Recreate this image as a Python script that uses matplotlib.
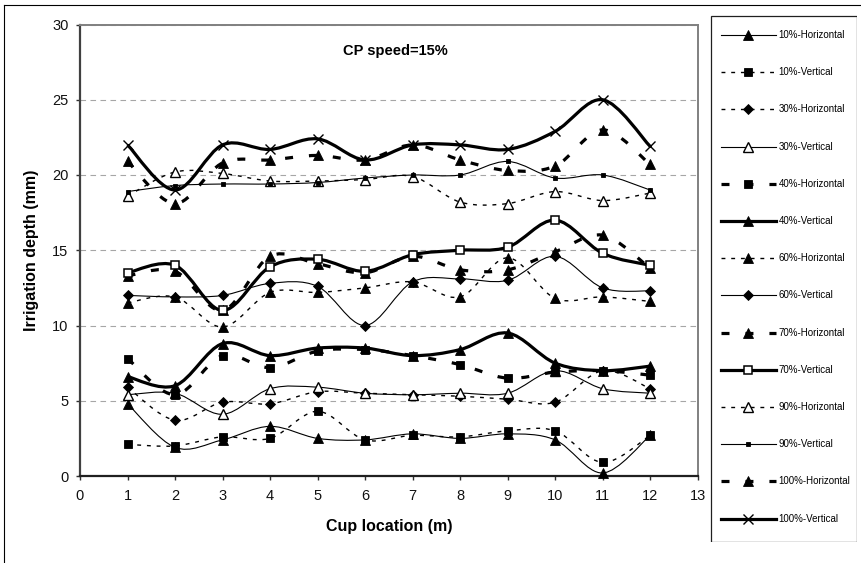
import numpy as np
import matplotlib
matplotlib.use("Agg")
import matplotlib.pyplot as plt
from matplotlib.path import Path
from matplotlib.patches import PathPatch, Rectangle
from matplotlib.lines import Line2D

plt.rcParams["font.family"] = ["Liberation Sans", "DejaVu Sans"]

# Cup positions along the lateral (m)
cups = [1, 2, 3, 4, 5, 6, 7, 8, 9, 10, 11, 12]

# Irrigation depth (mm) for each nozzle setting / catch-can line
h10 = [4.8, 1.9, 2.4, 3.3, 2.5, 2.4, 2.8, 2.5, 2.8, 2.4, 0.2, 2.7]
v10 = [2.1, 2.0, 2.6, 2.5, 4.3, 2.4, 2.7, 2.6, 3.0, 3.0, 0.9, 2.7]
h30 = [5.9, 3.7, 4.9, 4.8, 5.6, 5.5, 5.4, 5.3, 5.1, 4.9, 7.0, 5.8]
v30 = [5.4, 5.5, 4.1, 5.8, 5.9, 5.5, 5.4, 5.5, 5.5, 7.0, 5.8, 5.5]
h40 = [7.8, 5.4, 8.0, 7.2, 8.3, 8.4, 8.0, 7.4, 6.5, 6.9, 7.0, 6.7]
v40 = [6.6, 6.0, 8.8, 8.0, 8.5, 8.5, 8.0, 8.4, 9.5, 7.5, 7.0, 7.3]
h60 = [11.5, 11.9, 9.9, 12.2, 12.2, 12.5, 12.9, 11.9, 14.5, 11.8, 11.9, 11.6]
v60 = [12.0, 11.9, 12.0, 12.8, 12.6, 10.0, 12.9, 13.1, 13.0, 14.6, 12.5, 12.3]
h70 = [13.3, 13.6, 11.0, 14.6, 14.1, 13.5, 14.6, 13.7, 13.7, 14.9, 16.0, 13.8]
v70 = [13.5, 14.0, 11.0, 13.9, 14.4, 13.6, 14.7, 15.0, 15.2, 17.0, 14.8, 14.0]
h90 = [18.6, 20.2, 20.1, 19.6, 19.6, 19.7, 19.9, 18.2, 18.1, 18.9, 18.3, 18.8]
v90 = [18.9, 19.3, 19.4, 19.4, 19.5, 19.8, 20.0, 20.0, 20.9, 19.8, 20.0, 19.0]
h100 = [20.9, 18.1, 20.8, 21.0, 21.3, 21.0, 22.0, 21.0, 20.3, 20.6, 23.0, 20.7]
v100 = [22.0, 19.0, 22.0, 21.7, 22.4, 21.0, 22.0, 22.0, 21.7, 22.9, 25.0, 21.9]

labels = ["10%-Horizontal", "10%-Vertical", "30%-Horizontal", "30%-Vertical",
          "40%-Horizontal", "40%-Vertical", "60%-Horizontal", "60%-Vertical",
          "70%-Horizontal", "70%-Vertical", "90%-Horizontal", "90%-Vertical",
          "100%-Horizontal", "100%-Vertical"]
values = [h10, v10, h30, v30, h40, v40, h60, v60, h70, v70, h90, v90, h100, v100]

THIN, THICK, DOTW = 0.8, 2.3, 1.0
DOT = (2.8, 4.2)     # short dashes, in line-width units
LONG = (2.5, 5.0)    # long thick dashes

def st(lw, dash, marker, ms, mfc="black", mew=0.6):
    return dict(lw=lw, dash=dash, marker=marker, ms=ms, mfc=mfc, mew=mew)

styles = [
    st(THIN, None, "^", 6.6),
    st(DOTW, DOT, "s", 6.0),
    st(DOTW, DOT, "D", 4.8),
    st(THIN, None, "^", 6.6, "white", 1.0),
    st(THICK, LONG, "s", 6.0),
    st(THICK, None, "^", 6.6),
    st(DOTW, DOT, "^", 6.6),
    st(THIN, None, "D", 4.8),
    st(THICK, LONG, "^", 6.6),
    st(THICK, None, "s", 6.2, "white", 1.1),
    st(DOTW, DOT, "^", 6.6, "white", 1.0),
    st(THIN, None, "s", 3.0),
    st(THICK, LONG, "^", 6.6),
    st(THICK, None, "x", 7.5, "black", 1.0),
]


def smooth_path(xs, ys):
    """Bezier path through the points with Catmull-Rom style handles."""
    pts = np.column_stack([xs, ys]).astype(float)
    n = len(pts)
    verts, codes = [pts[0]], [Path.MOVETO]
    for i in range(n - 1):
        p0 = pts[i - 1] if i > 0 else pts[i]
        p1, p2 = pts[i], pts[i + 1]
        p3 = pts[i + 2] if i + 2 < n else pts[i + 1]
        verts += [p1 + (p2 - p0) / 6.0, p2 - (p3 - p1) / 6.0, p2]
        codes += [Path.CURVE4] * 3
    return Path(verts, codes)


W, H = 861, 563
fig = plt.figure(figsize=(W / 100, H / 100), dpi=100)
fig.patch.set_facecolor("white")

x0, x1, ytop, ybot = 80.0, 697.7, 24.5, 476.0
ax = fig.add_axes([x0 / W, 1 - ybot / H, (x1 - x0) / W, (ybot - ytop) / H])
ax.set_xlim(0, 13)
ax.set_ylim(0, 30)
ax.set_xticks(range(0, 14))
ax.set_yticks(range(0, 31, 5))
ax.yaxis.grid(True, color="#a6a6a6", lw=0.8, linestyle=(0, (5, 4)))
ax.set_axisbelow(True)

for sp in ("top", "right"):
    ax.spines[sp].set_color("#808080")
    ax.spines[sp].set_linewidth(1.4)
ax.spines["left"].set_color("#404040")
ax.spines["left"].set_linewidth(1.6)
ax.spines["bottom"].set_color("#202020")
ax.spines["bottom"].set_linewidth(1.6)
ax.tick_params(direction="out", length=3.2, width=1.0, color="#303030",
               labelsize=10.5, labelcolor="#111111")
ax.tick_params(axis="y", pad=5)
ax.tick_params(axis="x", pad=6)

for k, (lab, vals, s) in enumerate(zip(labels, values, styles)):
    ls = "-" if s["dash"] is None else (0, s["dash"])
    patch = PathPatch(smooth_path(cups, vals), fill=False, edgecolor="black",
                      lw=s["lw"], linestyle=ls, capstyle="butt",
                      joinstyle="round", transform=ax.transData,
                      zorder=3 + 2 * k)
    ax.add_patch(patch)
    ax.plot(cups, vals, linestyle="none", marker=s["marker"], ms=s["ms"],
            mfc=s["mfc"], mec="black", mew=s["mew"], zorder=4 + 2 * k,
            clip_on=False)

ax.set_xlabel("Cup location (m)", fontsize=11.5, fontweight="bold", va="center")
ax.xaxis.set_label_coords(0.5, (ybot - 526.7) / (ybot - ytop))
ax.set_ylabel("Irrigation depth (mm)", fontsize=11.5, fontweight="bold", va="center")
ax.yaxis.set_label_coords((32 - x0) / (x1 - x0), 0.5)
ax.text((395.8 - x0) / (x1 - x0), (ybot - 51) / (ybot - ytop), "CP speed=15%",
        transform=ax.transAxes, ha="center", va="center", fontsize=10.5,
        fontweight="bold")

# Legend panel
lx0, lx1, ly0, ly1 = 710, 857, 15, 542
lax = fig.add_axes([lx0 / W, 1 - ly1 / H, (lx1 - lx0) / W, (ly1 - ly0) / H])
lax.set_xlim(lx0, lx1)
lax.set_ylim(ly1, ly0)
lax.axis("off")
lax.add_patch(Rectangle((lx0 + 0.5, ly0 + 0.5), lx1 - lx0 - 1, ly1 - ly0 - 1,
                        fill=False, edgecolor="#202020", lw=0.9))
for k, (lab, s) in enumerate(zip(labels, styles)):
    yy = 35 + 37.2 * k
    ls = "-" if s["dash"] is None else (0, s["dash"])
    lax.add_line(Line2D([720.7, 776], [yy, yy], color="black", lw=s["lw"],
                        linestyle=ls, dash_capstyle="butt"))
    lax.plot([748.3], [yy], linestyle="none", marker=s["marker"], ms=s["ms"],
             mfc=s["mfc"], mec="black", mew=s["mew"])
    lax.text(778.7, yy, lab, fontsize=7, va="center", ha="left")

# Outer chart frame
fig.add_artist(Line2D([4.3 / W, 4.3 / W], [0, 1 - 5 / H], color="black",
                      lw=0.8, transform=fig.transFigure))
fig.add_artist(Line2D([4.3 / W, 1], [1 - 5 / H, 1 - 5 / H], color="black",
                      lw=0.8, transform=fig.transFigure))

fig.savefig("out.png", dpi=100)
